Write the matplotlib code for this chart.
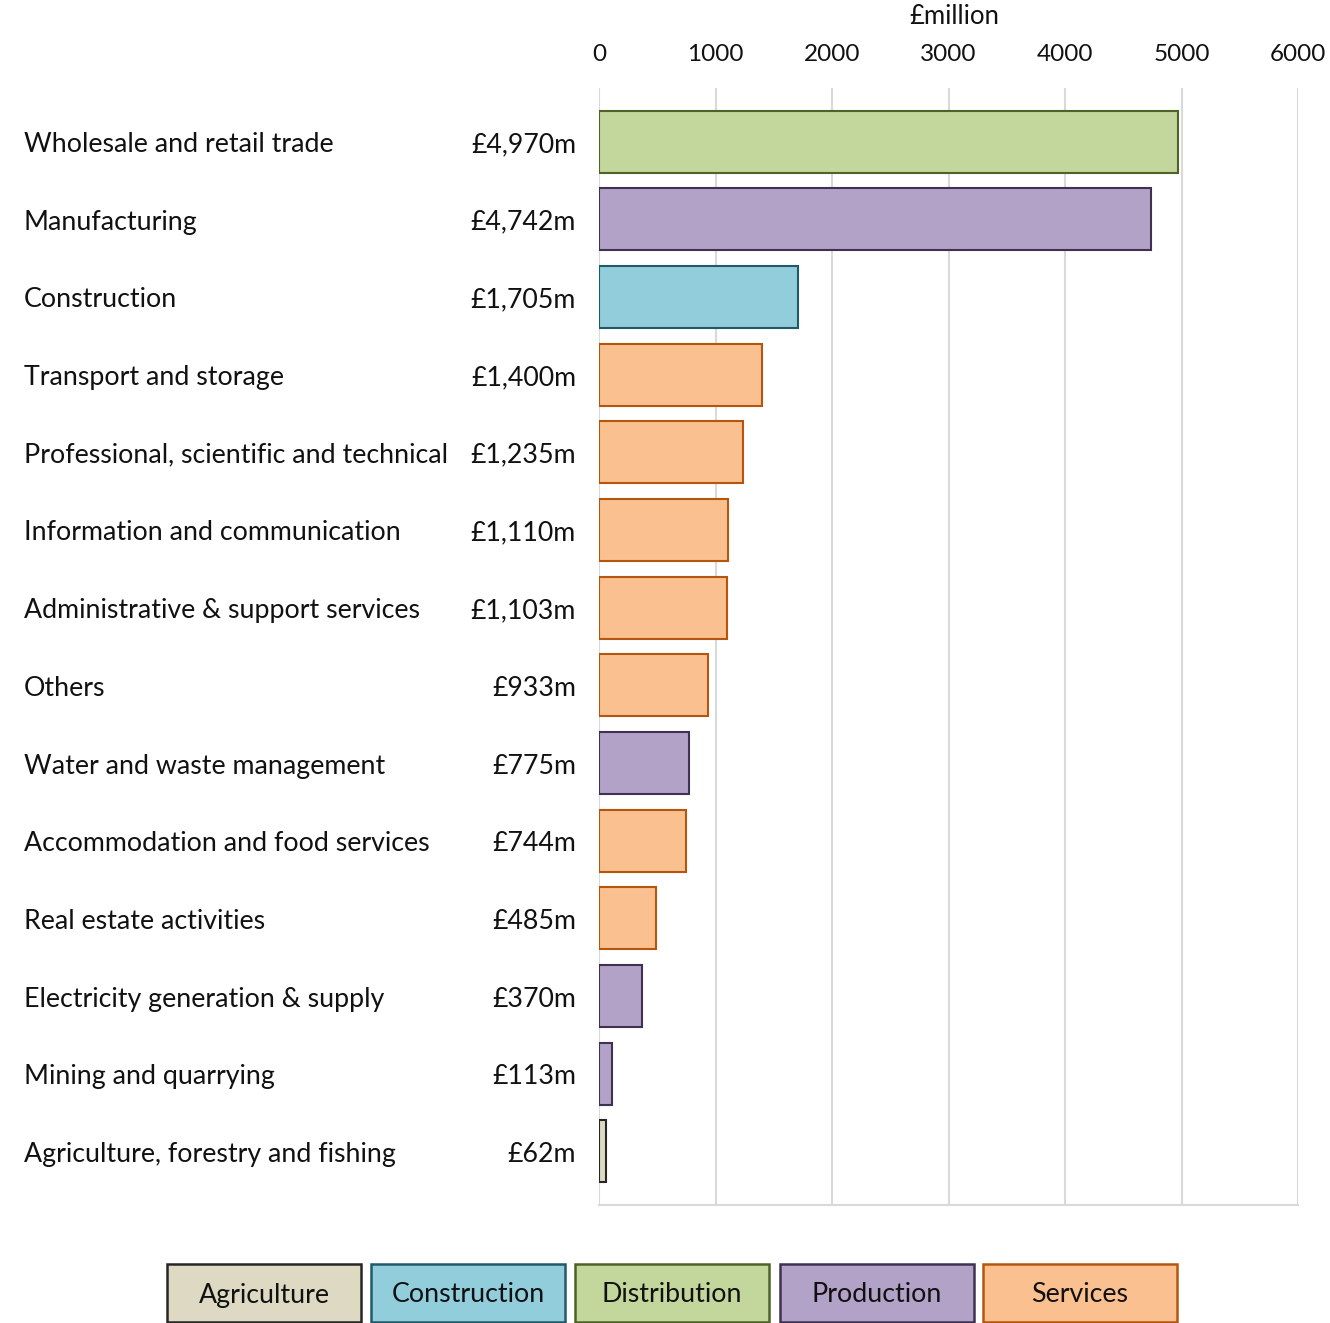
import matplotlib
matplotlib.use("Agg")
import matplotlib.pyplot as plt
from matplotlib.patches import Rectangle

plt.rcParams['font.family'] = ['Lato', 'DejaVu Sans']

categories = [
    "Wholesale and retail trade",
    "Manufacturing",
    "Construction",
    "Transport and storage",
    "Professional, scientific and technical",
    "Information and communication",
    "Administrative & support services",
    "Others",
    "Water and waste management",
    "Accommodation and food services",
    "Real estate activities",
    "Electricity generation & supply",
    "Mining and quarrying",
    "Agriculture, forestry and fishing",
]
values = [4970, 4742, 1705, 1400, 1235, 1110, 1103, 933, 775, 744, 485, 370, 113, 62]
sectors = ["Distribution", "Production", "Construction", "Services", "Services",
           "Services", "Services", "Services", "Production", "Services",
           "Services", "Production", "Production", "Agriculture"]
legend_labels = ["Agriculture", "Construction", "Distribution", "Production", "Services"]
x_ticks = [0, 1000, 2000, 3000, 4000, 5000, 6000]

fills = {"Agriculture": "#ddd9c3", "Construction": "#92cddc", "Distribution": "#c3d69b",
         "Production": "#b2a2c7", "Services": "#fac090"}
edges = {"Agriculture": "#262626", "Construction": "#215968", "Distribution": "#4f6228",
         "Production": "#3f3151", "Services": "#b5560f"}

W, H = 1330, 1323
fig = plt.figure(figsize=(W / 100, H / 100), dpi=100)
left, right, top, bottom = 599, 1298, 88, 1205
ax = fig.add_axes([left / W, 1 - bottom / H, (right - left) / W, (bottom - top) / H])

ypos = list(range(len(categories)))
for y, v, s in zip(ypos, values, sectors):
    ax.barh(y, v, height=0.8, color=fills[s], edgecolor=edges[s], linewidth=1.5, zorder=3)

ax.set_xlim(0, 6000)
ax.set_ylim(len(categories) - 1 + 0.69, -0.69)
ax.set_xticks(x_ticks)
ax.set_xticklabels([str(t) for t in x_ticks], fontsize=17.5, color="#111111")
ax.xaxis.tick_top()
ax.tick_params(axis="x", length=0, pad=16.5)
ax.set_yticks([])
ax.grid(axis="x", color="#d9d9d9", linewidth=1.5, zorder=0)
for sp in ["top", "left", "right"]:
    ax.spines[sp].set_visible(False)
ax.spines["bottom"].set_color("#d9d9d9")
ax.spines["bottom"].set_linewidth(1.5)

fig.text(954 / W, 1 - 17 / H, "£million", ha="center", va="center", fontsize=18.5, color="#111111")

# category and value labels
fig.canvas.draw()
for y, c, v in zip(ypos, categories, values):
    yd = ax.transData.transform((0, y))[1] - 3
    yf = yd / H
    fig.text(24 / W, yf, c, ha="left", va="center", fontsize=19.3, color="#111111")
    fig.text(576 / W, yf, f"£{v:,}m", ha="right", va="center", fontsize=19.3, color="#111111")

# legend boxes
box_x = [167, 371, 575, 780, 983]
bw, bh, by = 194, 58, 1264
for x0, lab in zip(box_x, legend_labels):
    r = Rectangle((x0 / W, 1 - (by + bh) / H), bw / W, bh / H, transform=fig.transFigure,
                  facecolor=fills[lab], edgecolor=edges[lab], linewidth=1.8)
    fig.add_artist(r)
    fig.text((x0 + bw / 2) / W, 1 - (by + bh / 2 + 2) / H, lab, ha="center", va="center",
             fontsize=19.3, color="#111111")

fig.savefig("out.png", dpi=100)
